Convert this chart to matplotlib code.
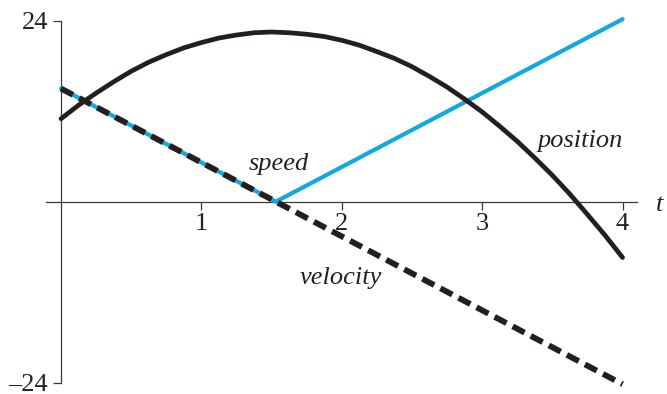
import matplotlib.pyplot as plt

# values
t_pos = [0, 0.125, 0.25, 0.375, 0.5, 0.625, 0.75, 0.875, 1.0, 1.125, 1.25, 1.375, 1.5, 1.625,
         1.75, 1.875, 2.0, 2.125, 2.25, 2.375, 2.5, 2.625, 2.75, 2.875, 3.0, 3.125, 3.25, 3.375,
         3.5, 3.625, 3.75, 3.875, 4.0]
position = [11.0, 12.8, 14.4, 15.9, 17.3, 18.5, 19.5, 20.4, 21.1, 21.7, 22.1, 22.4, 22.5, 22.4,
            22.2, 21.9, 21.4, 20.75, 19.9, 19.0, 17.9, 16.6, 15.2, 13.6, 11.9, 10.0, 8.0, 5.8,
            3.5, 1.0, -1.7, -4.45, -7.4]

t_vel = [0, 4]
velocity = [15.0, -24.2]

t_speed = [0, 1.53, 4]
speed = [15.0, 0, 24.2]

x_ticks = [1, 2, 3, 4]
y_ticks = [-24, 24]
y_tick_labels = ['\u201324', '24']

blue = '#12A8E2'
black = '#231F20'
axis_col = '#3a3a3a'
text_col = '#222222'

plt.rcParams['font.family'] = ['Liberation Serif', 'DejaVu Serif']

fig = plt.figure(figsize=(6.67, 3.94), dpi=100)
ax = fig.add_axes([0.0694, 0.0287, 0.885, 0.9188])
ax.set_xlim(-0.105, 4.10)
ax.set_ylim(-24, 24)

# speed first, dashed velocity over it, position on top
ax.plot(t_speed, speed, color=blue, lw=3.0, solid_capstyle='round', clip_on=False, zorder=3)
ax.plot(t_vel, velocity, color=black, lw=4.2, dashes=(2.3, 1.2), dash_capstyle='butt',
        clip_on=False, zorder=4)
ax.plot(t_pos, position, color=black, lw=3.4, solid_capstyle='round', solid_joinstyle='round',
        clip_on=False, zorder=5)

# axes through the origin
for side in ['top', 'right']:
    ax.spines[side].set_visible(False)
ax.spines['left'].set_position(('data', 0))
ax.spines['bottom'].set_position(('data', 0))
for side in ['left', 'bottom']:
    ax.spines[side].set_color(axis_col)
    ax.spines[side].set_linewidth(0.9)

ax.set_xticks(x_ticks)
ax.set_xticklabels([str(v) for v in x_ticks])
ax.set_yticks(y_ticks)
ax.set_yticklabels(y_tick_labels)
ax.tick_params(axis='both', direction='out', length=5.5, width=0.9, color=axis_col,
               labelsize=19, labelcolor=text_col)
ax.tick_params(axis='x', pad=3)
ax.tick_params(axis='y', pad=4)
for lab in ax.get_yticklabels():
    lab.set_verticalalignment('center_baseline')

# curve labels
ax.text(1.553, 4.2, 'speed', style='italic', fontsize=19, ha='center', va='baseline', color=text_col)
ax.text(1.994, -10.95, 'velocity', style='italic', fontsize=19, ha='center', va='baseline', color=text_col)
ax.text(3.70, 7.2, 'position', style='italic', fontsize=19, ha='center', va='baseline', color=text_col)
ax.text(4.266, -1.2, 't', style='italic', fontsize=19, ha='center', va='baseline', color=text_col)

fig.savefig('out.png', dpi=100)
